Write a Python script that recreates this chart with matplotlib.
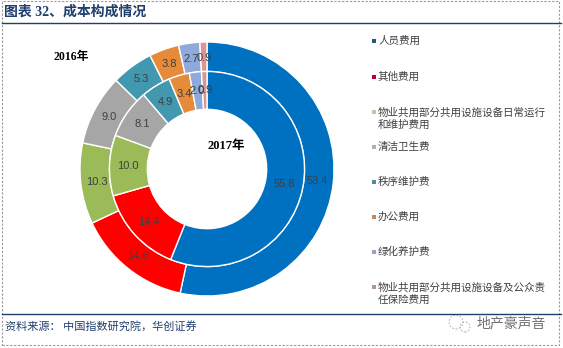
import math
import matplotlib
matplotlib.use('Agg')
import matplotlib.pyplot as plt
from matplotlib.lines import Line2D
from matplotlib.patches import Rectangle, Circle
from matplotlib.transforms import IdentityTransform

plt.rcParams['font.family'] = ['Noto Sans CJK SC', 'DejaVu Sans']

W, H = 563, 348

categories = ['人员费用', '其他费用', '物业共用部分共用设施设备日常运行\n和维护费用', '清洁卫生费',
              '秩序维护费', '办公费用', '绿化养护费', '物业共用部分共用设施设备及公众责\n任保险费用']
values_2016 = [53.4, 14.6, 10.3, 9.0, 5.3, 3.8, 2.7, 0.9]
values_2017 = [55.8, 14.4, 10.0, 8.1, 4.9, 3.4, 2.0, 0.9]
colors = ['#0070C0', '#FF0000', '#9BBB59', '#A6A6A6', '#4198AF', '#E58B3A', '#8EA9DB', '#D99694']
legend_colors = ['#1F5C7A', '#C00030', '#C4C9A0', '#B0B0B0', '#4F8C9C', '#C08A5C', '#9A9FC4', '#B89098']
legend_y = [41, 77, 112, 147, 182, 217, 252, 287]

fig = plt.figure(figsize=(W / 100, H / 100), dpi=100, facecolor='white')

# pie axes, placed in pixels: centre (207, 169), outer radius 127
cx, cy, R = 207, 169, 127
ax = fig.add_axes([(cx - R) / W, 1 - (cy + R) / H, 2 * R / W, 2 * R / H])


def ring(vals, radius, width):
    wedges, _ = ax.pie(vals, radius=radius, colors=colors, startangle=90, counterclock=False,
                       normalize=True, wedgeprops=dict(width=width, edgecolor='white', linewidth=1.0))
    return wedges


def add_labels(wedges, vals, r):
    for w, v in zip(wedges, vals):
        a = math.radians((w.theta1 + w.theta2) / 2)
        ax.text(r * math.cos(a), r * math.sin(a), f'{v:.1f}', ha='center', va='center',
                fontsize=8, color='#404040', family='Liberation Sans')


outer = ring(values_2016, 1.0, 0.232)
inner = ring(values_2017, 0.768, 0.298)
ax.set_xlim(-1, 1)
ax.set_ylim(-1, 1)
ax.set_aspect('equal')
ax.axis('off')
add_labels(outer, values_2016, 0.875)
add_labels(inner, values_2017, 0.62)


def px_text(x, y, s, **kw):
    fig.text(x / W, 1 - y / H, s, **kw)


def px_line(x0, x1, y, color, lw, ls='-'):
    fig.add_artist(Line2D([x0 / W, x1 / W], [1 - y / H, 1 - y / H], color=color, lw=lw, ls=ls))


px_text(4, 12, '图表 32、成本构成情况', fontsize=10, fontweight='bold', color='#1F3F6E', va='center',
        family=['Liberation Serif', 'Noto Sans CJK SC'])
px_text(54, 57, '2016年', fontsize=8.5, fontweight='bold', va='center',
        family=['Liberation Serif', 'Noto Sans CJK SC'])
px_text(207, 146, '2017年', fontsize=9, fontweight='bold', va='center',
        family=['Liberation Serif', 'Noto Sans CJK SC'])
px_text(5, 326, '资料来源： 中国指数研究院，华创证券', fontsize=8, color='#1F3F6E', va='center')
px_text(477, 323, '地产豪声音', fontsize=10, color='#707070', va='center')

# wechat style mark next to the watermark, in pixels so the circles stay round
for x, y, r in [(456, 322, 7), (465, 327, 5)]:
    fig.add_artist(Circle((x, H - y), r, fill=False, ec='#A0A0A0', lw=0.6,
                          ls=(0, (2, 2)), transform=IdentityTransform()))

# rules under title and above source, dashed frame round the whole thing
px_line(2, 561, 23, '#1F3F6E', 1.0)
px_line(2, 561, 314, '#1F3F6E', 1.0)
fig.add_artist(Rectangle((2 / W, 1 - 345 / H), 557 / W, 344 / H, fill=False, ec='#999999',
                         lw=0.8, ls=(0, (2, 1.5)), transform=fig.transFigure))

# legend entries
for name, col, y in zip(categories, legend_colors, legend_y):
    fig.add_artist(Rectangle((372 / W, 1 - (y + 2) / H), 4 / W, 4 / H, fc=col, ec='none',
                             transform=fig.transFigure))
    px_text(378, y - 5, name, fontsize=7.6, color='#404040', va='top', linespacing=1.25)

fig.savefig('out.png', dpi=100)
